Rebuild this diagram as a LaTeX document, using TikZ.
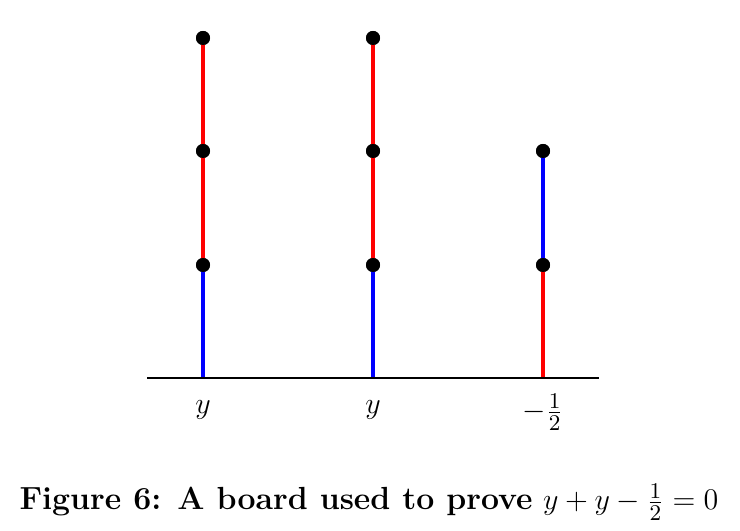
\documentclass[tikz,border=0pt]{standalone}
\usepackage{amsmath}
\tikzset{
  dot/.style={circle,fill=black,inner sep=0pt,minimum size=5.6pt},
  redseg/.style={draw=red,line width=1.6pt},
  blueseg/.style={draw=blue,line width=1.6pt},
  ground/.style={draw=black,line width=0.8pt},
  lbl/.style={font=\fontsize{12.4}{15}\selectfont},
  caplbl/.style={font=\fontsize{12.8}{15}\selectfont}
}
\begin{document}
\begin{tikzpicture}[x=0.4pt,y=-0.4pt]
\useasboundingbox (0,0) rectangle (740,531);
% ground
\coordinate (gL) at (147,378);
\coordinate (gR) at (599,378);
\coordinate (b1) at (203,378);
\coordinate (b2) at (373,378);
\coordinate (b3) at (543,378);
% dots
\node[dot] (a1) at (203,265) {};
\node[dot] (a2) at (203,151) {};
\node[dot] (a3) at (203,38) {};
\node[dot] (c1) at (373,265) {};
\node[dot] (c2) at (373,151) {};
\node[dot] (c3) at (373,38) {};
\node[dot] (d1) at (543,265) {};
\node[dot] (d2) at (543,151) {};
% segments
\path[blueseg] (b1) -- (a1.center);
\path[redseg] (a1.center) -- (a2.center);
\path[redseg] (a2.center) -- (a3.center);
\path[blueseg] (b2) -- (c1.center);
\path[redseg] (c1.center) -- (c2.center);
\path[redseg] (c2.center) -- (c3.center);
\path[redseg] (b3) -- (d1.center);
\path[blueseg] (d1.center) -- (d2.center);
\path[ground] (gL) -- (gR);
% redraw dots on top
\foreach \n in {a1,a2,a3,c1,c2,c3,d1,d2} {\fill (\n) circle (2.8pt);}
% labels
\node[lbl] (l1) at (203,410) {$y$};
\node[lbl] (l2) at (373,410) {$y$};
\node[lbl] (l3) at (543,412) {$-\frac{1}{2}$};
% caption
\node[caplbl,anchor=base] (cap) at (369,510) {\textbf{Figure 6: A board used to prove} $y+y-\frac{1}{2}=0$};
\end{tikzpicture}
\end{document}
